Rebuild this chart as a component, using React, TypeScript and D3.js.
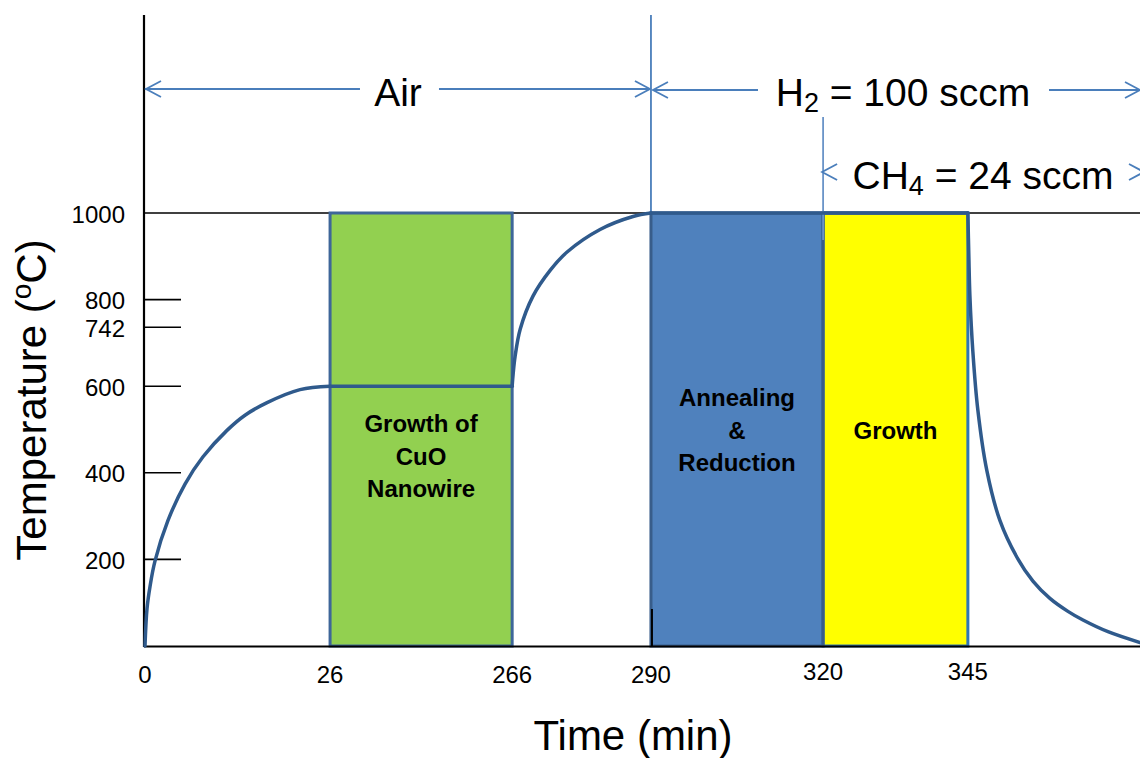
import React from "react";
import * as d3 from "d3";

// ---------- data ----------
const xTickValues = [0, 26, 266, 290, 320, 345];
const xStops = [0, 26, 266, 290, 320, 345, 375];
const yTickValues = [200, 400, 600, 742, 800, 1000];

const profileTime = [
  0, 0.28, 0.7, 1.4, 3.23, 5.62, 8.15, 11.52, 14.05, 17.15, 21.78, 26,
  266, 266.17, 266.5, 267.4, 269.6, 272.6, 275.5, 281.2, 286.9, 290,
  345, 345.17, 345.35, 345.87, 346.74, 348.31, 350.58, 353.55, 356.34, 359.3, 362.44, 365.06, 369.42, 375,
];
const profileTemp = [
  0, 86, 137, 196, 290, 374, 437, 498, 533, 562, 592, 600,
  600, 628, 668, 732, 808, 868, 910, 962, 992, 1000,
  1000, 900, 810, 680, 545, 405, 290, 205, 150, 110, 80, 60, 33, 8,
];
// times where the heating profile changes regime (hold / ramp / cool)
const breakTimes = [26, 266, 290, 345];

const stageNames = ["growthCuO", "annealing", "growth"];
const stageStart = [26, 290, 320];
const stageEnd = [266, 320, 345];
const stageFill = ["#92D050", "#4F81BD", "#FFFF00"];
const stageStroke = ["#3E6699", "#385D8A", "#2E75B6"];
const stageLabels = [["Growth of", "CuO", "Nanowire"], ["Annealing", "&", "Reduction"], ["Growth"]];

const FONT = "'Liberation Sans', Arial, Helvetica, sans-serif";

export default function App() {
  const W = 1140;
  const H = 758;
  const left = 145;
  const right = 1140;
  const pw = right - left;
  const xFrac = [0, 0.186, 0.369, 0.5085, 0.6815, 0.827, 1];
  const x = d3.scaleLinear().domain(xStops).range(xFrac.map((f) => left + f * pw));
  const y = d3.scaleLinear().domain([0, 1000]).range([646, 213]);

  // split the profile at regime changes, draw each piece with a smooth curve
  const bounds = [-Infinity, ...breakTimes, Infinity];
  const lineGen = d3.line().curve(d3.curveCatmullRom.alpha(0.5));
  const pieces: string[] = [];
  for (let k = 0; k < bounds.length - 1; k++) {
    const pts: [number, number][] = [];
    profileTime.forEach((t, i) => {
      if (t >= bounds[k] && t <= bounds[k + 1]) pts.push([x(t), y(profileTemp[i])]);
    });
    pieces.push(lineGen(pts) || "");
  }

  const arrowColor = "#4A7EBB";
  const head = (tipX: number, yy: number, dir: number) =>
    `M${tipX + dir * 15},${yy - 8} L${tipX},${yy} L${tipX + dir * 15},${yy + 8}`;

  const rowAir = 89;
  const rowCH4 = 172;

  const airMid = (x(0) + x(290)) / 2;
  const h2Mid = 903;
  const ch4Mid = 983;

  return (
    <svg width={W} height={H} style={{ position: "absolute", left: 0, top: 0, background: "#fff" }} fontFamily={FONT}>
      {/* 1000 reference line */}
      <line x1={left - 1} x2={right} y1={y(1000)} y2={y(1000)} stroke="#000" strokeWidth={1.6} />

      {/* stage boxes */}
      {stageNames.map((n, i) => (
        <rect
          key={n}
          x={x(stageStart[i])}
          y={y(1000)}
          width={x(stageEnd[i]) - x(stageStart[i])}
          height={y(0) - y(1000)}
          fill={stageFill[i]}
          stroke={stageStroke[i]}
          strokeWidth={3}
        />
      ))}
      {/* yellow box left/top edge darker */}
      <line x1={x(320)} x2={x(320)} y1={y(1000)} y2={y(0)} stroke="#385D8A" strokeWidth={3} />
      <line x1={x(320)} x2={x(345)} y1={y(1000)} y2={y(1000)} stroke="#385D8A" strokeWidth={3} />

      {/* box labels */}
      {stageNames.map((n, i) => {
        const cx = (x(stageStart[i]) + x(stageEnd[i])) / 2;
        const lines = stageLabels[i];
        const cy = 430 + (i === 0 ? 26 : 0);
        return (
          <text key={n + "l"} textAnchor="middle" fontWeight="bold" fontSize={24} fill="#000">
            {lines.map((s, j) => (
              <tspan key={j} x={cx} y={cy + (j - (lines.length - 1) / 2) * 32.5} dominantBaseline="central">
                {s}
              </tspan>
            ))}
          </text>
        );
      })}

      {/* y-axis ticks */}
      {yTickValues.slice(0, 5).map((v) => (
        <line key={v} x1={left - 1} x2={181} y1={y(v) + (v === 742 ? 2.5 : 0)} y2={y(v) + (v === 742 ? 2.5 : 0)} stroke="#000" strokeWidth={1.6} />
      ))}
      {yTickValues.map((v) => (
        <text key={"t" + v} x={125} y={y(v) + 1 + (v === 742 ? 2.5 : 0)} textAnchor="end" dominantBaseline="central" fontSize={24} fill="#000">
          {v}
        </text>
      ))}

      {/* x tick labels */}
      {xTickValues.map((v) => (
        <text key={"x" + v} x={x(v)} y={v >= 320 ? 671 : 674} textAnchor="middle" dominantBaseline="central" fontSize={24} fill="#000">
          {v}
        </text>
      ))}

      {/* small tick at 290 */}
      <line x1={x(290) + 1} x2={x(290) + 1} y1={609} y2={646} stroke="#000" strokeWidth={2} />

      {/* axes */}
      <line x1={left - 1} x2={left - 1} y1={15} y2={647} stroke="#000" strokeWidth={2.2} />
      <line x1={left - 1} x2={right} y1={646.5} y2={646.5} stroke="#000" strokeWidth={2.2} />

      {/* vertical gas markers */}
      <line x1={x(290)} x2={x(290)} y1={15} y2={y(1000)} stroke={arrowColor} strokeWidth={1.8} />
      <line x1={x(320)} x2={x(320)} y1={117} y2={240} stroke="#6A94C8" strokeWidth={1.8} />

      {/* temperature profile */}
      {pieces.map((d, i) => (
        <path key={"p" + i} d={d} fill="none" stroke="#2F5A8C" strokeWidth={3.5} strokeLinejoin="round" strokeLinecap="round" />
      ))}

      {/* gas rows */}
      <g stroke={arrowColor} strokeWidth={1.8} fill="none">
        <line x1={x(0)} x2={airMid - 38} y1={rowAir} y2={rowAir} />
        <path d={head(x(0) + 1, rowAir, 1)} />
        <line x1={airMid + 41} x2={x(290) - 1} y1={rowAir} y2={rowAir} />
        <path d={head(x(290) - 1, rowAir, -1)} />

        <line x1={x(290) + 2} x2={h2Mid - 145} y1={rowAir + 1} y2={rowAir + 1} />
        <path d={head(x(290) + 2, rowAir + 1, 1)} />
        <line x1={h2Mid + 146} x2={right} y1={rowAir + 1} y2={rowAir + 1} />
        <path d={head(right, rowAir + 1, -1)} />

        <path d={head(x(320) - 1, rowCH4, 1)} />
        <path d={head(right + 4, rowCH4, -1)} />
      </g>
      <text x={airMid} y={rowAir + 3} textAnchor="middle" dominantBaseline="central" fontSize={39} fill="#000">
        Air
      </text>
      <text x={h2Mid} y={rowAir + 3} textAnchor="middle" dominantBaseline="central" fontSize={39} fill="#000">
        H<tspan fontSize={27} dy={11}>2</tspan>
        <tspan dy={-11}> = 100 sccm</tspan>
      </text>
      <text x={ch4Mid} y={rowCH4 + 3} textAnchor="middle" dominantBaseline="central" fontSize={39} fill="#000">
        CH<tspan fontSize={27} dy={11}>4</tspan>
        <tspan dy={-11}> = 24 sccm</tspan>
      </text>

      {/* axis titles */}
      <text x={633} y={750} textAnchor="middle" fontSize={42} fill="#000">
        Time (min)
      </text>
      <text transform="translate(46,400) rotate(-90)" textAnchor="middle" fontSize={42} fill="#000">
        Temperature (<tspan fontSize={28} dy={-15}>o</tspan>
        <tspan dy={15}>C)</tspan>
      </text>
    </svg>
  );
}
